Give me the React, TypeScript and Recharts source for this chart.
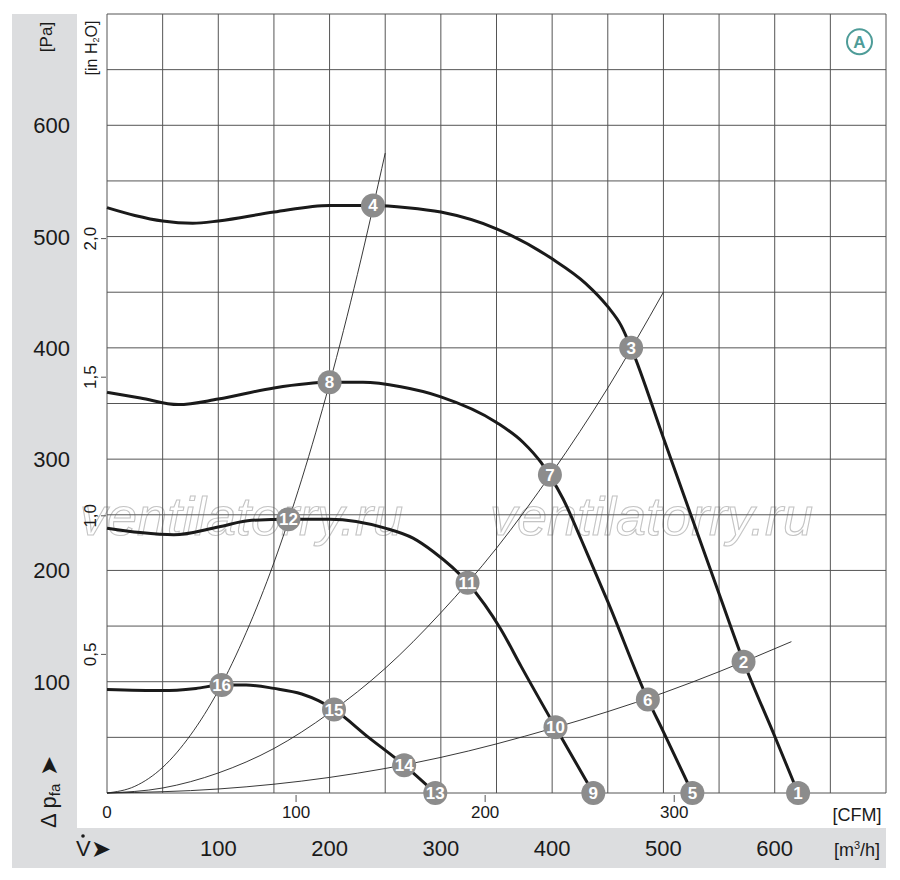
import React from 'react';
import { ComposedChart, Line, Scatter, XAxis, YAxis, CartesianGrid } from 'recharts';

const FONT = '"Liberation Sans Narrow", "Liberation Sans", Arial, sans-serif';
const ARROW_FONT = '"DejaVu Sans", sans-serif';

// axis ticks
const flowTicks = [0, 50, 100, 150, 200, 250, 300, 350, 400, 450, 500, 550, 600, 650, 700];
const flowLabelValues = [100, 200, 300, 400, 500, 600];
const pressureTicks = [0, 50, 100, 150, 200, 250, 300, 350, 400, 450, 500, 550, 600, 650, 700];
const pressureLabelValues = [100, 200, 300, 400, 500, 600];
const cfmTicks = [0, 100, 200, 300];
const inH2OTicks = [0.5, 1, 1.5, 2];
const inH2OLabels = ['0,5', '1,0', '1,5', '2,0'];
const cfmMax = 700 / 1.699;
const inH2OMax = 700 / 249.09;
const cfmMarks = cfmTicks.filter((c) => c > 0).map((c) => ({ c, p: 0 }));

// fan curves: q = m³/h, p = Pa
const curve1 = [
  { q: 0, p: 526 }, { q: 25, p: 519 }, { q: 50, p: 514 }, { q: 77, p: 512 }, { q: 100, p: 514 },
  { q: 150, p: 522 }, { q: 200, p: 528 }, { q: 240, p: 528 }, { q: 270, p: 526 }, { q: 300, p: 522 },
  { q: 350, p: 507 }, { q: 400, p: 480 }, { q: 430, p: 458 }, { q: 450, p: 437 }, { q: 462, p: 420 },
  { q: 471, p: 400 }, { q: 500, p: 319 }, { q: 550, p: 179 }, { q: 572, p: 118 }, { q: 600, p: 51 },
  { q: 621, p: 0 },
];
const curve2 = [
  { q: 0, p: 360 }, { q: 30, p: 355 }, { q: 64, p: 349 }, { q: 100, p: 354 }, { q: 150, p: 364 },
  { q: 200, p: 369 }, { q: 230, p: 369 }, { q: 264, p: 365 }, { q: 300, p: 356 }, { q: 350, p: 333 },
  { q: 374, p: 315 }, { q: 390, p: 297 }, { q: 398, p: 285 }, { q: 410, p: 264 }, { q: 426, p: 228 },
  { q: 435, p: 207 }, { q: 450, p: 172 }, { q: 486, p: 84 }, { q: 500, p: 55 }, { q: 526, p: 0 },
];
const curve3 = [
  { q: 0, p: 238 }, { q: 30, p: 234 }, { q: 60, p: 232 }, { q: 100, p: 239 }, { q: 130, p: 245 },
  { q: 163, p: 246 }, { q: 200, p: 246 }, { q: 250, p: 238 }, { q: 275, p: 229 }, { q: 293, p: 217 },
  { q: 324, p: 189 }, { q: 354, p: 147 }, { q: 372, p: 114 }, { q: 403, p: 59 }, { q: 437, p: 0 },
];
const curve4 = [
  { q: 0, p: 93 }, { q: 50, p: 92 }, { q: 80, p: 94 }, { q: 103, p: 97 }, { q: 125, p: 97 },
  { q: 150, p: 94 }, { q: 175, p: 89 }, { q: 190, p: 83 }, { q: 204, p: 75 }, { q: 235, p: 50 },
  { q: 267, p: 25 }, { q: 295, p: 0 },
];

// system (resistance) curves
const systemA = [
  { q: 0, p: 0 }, { q: 25, p: 6 }, { q: 50, p: 23 }, { q: 75, p: 52 }, { q: 100, p: 92 },
  { q: 125, p: 144 }, { q: 150, p: 207 }, { q: 175, p: 282 }, { q: 200, p: 368 }, { q: 225, p: 466 },
  { q: 250, p: 575 },
];
const systemB = [
  { q: 0, p: 0 }, { q: 50, p: 4.5 }, { q: 100, p: 18 }, { q: 150, p: 40 }, { q: 200, p: 72 },
  { q: 250, p: 112 }, { q: 300, p: 162 }, { q: 350, p: 220 }, { q: 400, p: 288 }, { q: 450, p: 364 },
  { q: 500, p: 450 },
];
const systemC = [
  { q: 0, p: 0 }, { q: 100, p: 3.6 }, { q: 200, p: 14 }, { q: 300, p: 32 }, { q: 400, p: 58 },
  { q: 500, p: 90 }, { q: 550, p: 109 }, { q: 615, p: 136 },
];

// numbered operating points
const markers = [
  { q: 621, p: 0, n: '1' }, { q: 572, p: 118, n: '2' }, { q: 471, p: 400, n: '3' }, { q: 239, p: 528, n: '4' },
  { q: 526, p: 0, n: '5' }, { q: 486, p: 84, n: '6' }, { q: 398, p: 286, n: '7' }, { q: 200, p: 369, n: '8' },
  { q: 437, p: 0, n: '9' }, { q: 403, p: 59, n: '10' }, { q: 324, p: 189, n: '11' }, { q: 163, p: 246, n: '12' },
  { q: 295, p: 0, n: '13' }, { q: 267, p: 25, n: '14' }, { q: 204, p: 75, n: '15' }, { q: 103, p: 97, n: '16' },
];

const TEXT = '#1a1a1a';

const PaTick = (props: any) => {
  const { y, payload } = props;
  if (!pressureLabelValues.includes(payload.value)) return <g />;
  return (
    <text x={70} y={y} dy={8} textAnchor="end" fontSize={22} fill={TEXT} fontFamily={FONT}>
      {payload.value}
    </text>
  );
};

const InH2OTick = (props: any) => {
  const { y, payload, index } = props;
  const i = inH2OTicks.indexOf(payload.value);
  return (
    <g>
      <line x1={101} x2={106} y1={y} y2={y} stroke="#555" />
      <text transform={`translate(96 ${y}) rotate(-90)`} textAnchor="middle" fontSize={17} fill={TEXT} fontFamily={FONT}>
        {inH2OLabels[i >= 0 ? i : index]}
      </text>
    </g>
  );
};

const CfmTick = (props: any) => {
  const { x, payload } = props;
  return (
    <text x={x} y={818} textAnchor="middle" fontSize={17} fill={TEXT} fontFamily={FONT}>
      {payload.value}
    </text>
  );
};

const CfmMarkShape = (props: any) => {
  const { cx, cy } = props;
  return <line x1={cx} x2={cx} y1={cy + 2} y2={cy + 9} stroke="#555" strokeWidth={1} />;
};

const FlowTick = (props: any) => {
  const { x, payload } = props;
  if (!flowLabelValues.includes(payload.value)) return <g />;
  return (
    <text x={x} y={856} textAnchor="middle" fontSize={22} fill={TEXT} fontFamily={FONT}>
      {payload.value}
    </text>
  );
};

const MarkerShape = (props: any) => {
  const { cx, cy, payload } = props;
  return (
    <g>
      <circle cx={cx} cy={cy} r={12} fill="#8c8c8c" />
      <text x={cx} y={cy} dy={6} textAnchor="middle" fontSize={17} fontWeight="bold" fill="#ffffff" fontFamily={FONT}>
        {payload.n}
      </text>
    </g>
  );
};

const Background = () => (
  <svg width={900} height={880} style={{ position: 'absolute', left: 0, top: 0 }}>
    <rect x={12} y={14} width={65} height={854} fill="#dcdddf" />
    <rect x={12} y={828} width={874} height={40} fill="#dcdddf" />
    <text x={80} y={535} fontSize={54} fontStyle="italic" fontFamily='"Liberation Sans", Arial, sans-serif' fill="none" stroke="#c4c4c4" strokeWidth={1.1}>
      ventilatorry.ru
    </text>
    <text x={490} y={535} fontSize={54} fontStyle="italic" fontFamily='"Liberation Sans", Arial, sans-serif' fill="none" stroke="#c4c4c4" strokeWidth={1.1}>
      ventilatorry.ru
    </text>
    <text transform="translate(52 37) rotate(-90)" textAnchor="middle" fontSize={17} fill={TEXT} fontFamily={FONT}>[Pa]</text>
    <text transform="translate(97 48) rotate(-90)" textAnchor="middle" fontSize={16} fill={TEXT} fontFamily={FONT}>
      [in H<tspan fontSize={9} dy={2}>2</tspan><tspan dy={-2}>O]</tspan>
    </text>
    <text transform="translate(56 828) rotate(-90)" fontSize={22} fill={TEXT} fontFamily={FONT}>
      Δ p<tspan fontSize={15} dy={4}>fa</tspan><tspan dy={-3} fontFamily={ARROW_FONT} fontSize={24}> ➤</tspan>
    </text>
    <text x={76} y={856} fontSize={22} fill={TEXT} fontFamily={FONT}>V</text>
    <circle cx={83} cy={836} r={1.8} fill={TEXT} />
    <text x={91} y={857} fontSize={24} fill={TEXT} fontFamily={ARROW_FONT}>➤</text>
    <text x={857} y={856} textAnchor="middle" fontSize={18} fill={TEXT} fontFamily={FONT}>
      [m<tspan fontSize={11} dy={-7}>3</tspan><tspan dy={7}>/h]</tspan>
    </text>
    <text x={857} y={821} textAnchor="middle" fontSize={18} fill={TEXT} fontFamily={FONT}>[CFM]</text>
  </svg>
);

const Badge = () => (
  <svg width={900} height={880} style={{ position: 'absolute', left: 0, top: 0, pointerEvents: 'none' }}>
    <circle cx={859.5} cy={41.7} r={12.5} fill="#ffffff" stroke="#4e9c98" strokeWidth={2} />
    <text x={859.5} y={41.7} dy={6} textAnchor="middle" fontSize={17} fontWeight="bold" fill="#4e9c98" fontFamily={FONT}>A</text>
  </svg>
);

export default function App() {
  return (
    <div style={{ position: 'absolute', left: 0, top: 0, width: 900, height: 880, background: '#ffffff' }}>
      <Background />
      <div style={{ position: 'absolute', left: 0, top: 0 }}>
        <ComposedChart width={900} height={880} margin={{ top: 14, right: 14, left: 0, bottom: 0 }}>
          <CartesianGrid xAxisId="m3h" yAxisId="pa" stroke="#555555" strokeWidth={1} />
          <XAxis xAxisId="cfm" dataKey="c" type="number" domain={[0, cfmMax]} ticks={cfmTicks} interval={0}
            height={35} axisLine={false} tickLine={false} tick={CfmTick} />
          <XAxis xAxisId="m3h" dataKey="q" type="number" domain={[0, 700]} ticks={flowTicks} interval={0}
            height={52} axisLine={false} tickLine={false} tick={FlowTick} />
          <YAxis yAxisId="inh2o" type="number" domain={[0, inH2OMax]} ticks={inH2OTicks} interval={0}
            width={30} axisLine={false} tickLine={false} tick={InH2OTick} allowDataOverflow />
          <YAxis yAxisId="pa" type="number" domain={[0, 700]} ticks={pressureTicks} interval={0}
            width={77} axisLine={false} tickLine={false} tick={PaTick} />

          <Line xAxisId="m3h" yAxisId="pa" data={systemA} dataKey="p" type="monotone" stroke="#222" strokeWidth={0.9} dot={false} isAnimationActive={false} />
          <Line xAxisId="m3h" yAxisId="pa" data={systemB} dataKey="p" type="monotone" stroke="#222" strokeWidth={0.9} dot={false} isAnimationActive={false} />
          <Line xAxisId="m3h" yAxisId="pa" data={systemC} dataKey="p" type="monotone" stroke="#222" strokeWidth={0.9} dot={false} isAnimationActive={false} />

          <Line xAxisId="m3h" yAxisId="pa" data={curve1} dataKey="p" type="monotone" stroke="#1a1a1a" strokeWidth={3} dot={false} isAnimationActive={false} />
          <Line xAxisId="m3h" yAxisId="pa" data={curve2} dataKey="p" type="monotone" stroke="#1a1a1a" strokeWidth={3} dot={false} isAnimationActive={false} />
          <Line xAxisId="m3h" yAxisId="pa" data={curve3} dataKey="p" type="monotone" stroke="#1a1a1a" strokeWidth={3} dot={false} isAnimationActive={false} />
          <Line xAxisId="m3h" yAxisId="pa" data={curve4} dataKey="p" type="monotone" stroke="#1a1a1a" strokeWidth={3} dot={false} isAnimationActive={false} />

          <Scatter xAxisId="cfm" yAxisId="pa" data={cfmMarks} dataKey="p" shape={CfmMarkShape} isAnimationActive={false} />
          <Scatter xAxisId="m3h" yAxisId="pa" data={markers} dataKey="p" shape={MarkerShape} isAnimationActive={false} />
        </ComposedChart>
      </div>
      <Badge />
    </div>
  );
}
